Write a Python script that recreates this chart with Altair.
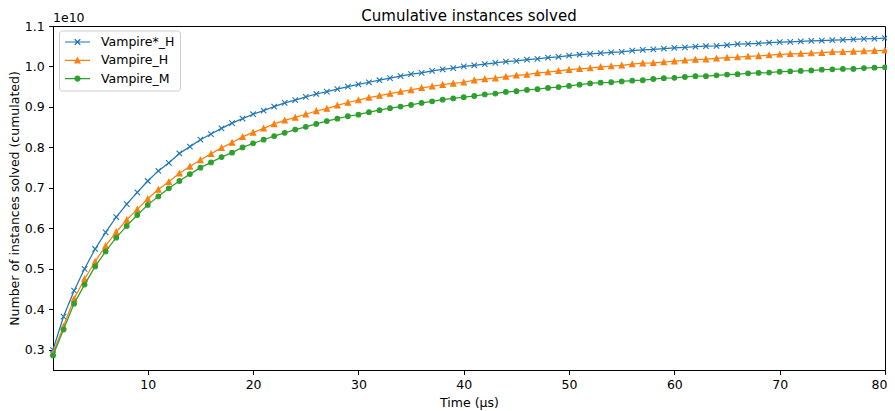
import altair as alt
import pandas as pd

# ---------------- data (values in units of 1e10) ----------------
times = list(range(1, 81))
series_names = ["Vampire*_H", "Vampire_H", "Vampire_M"]
colors = ["#1f77b4", "#ff7f0e", "#2ca02c"]

vampire_star_h = [
    0.300, 0.382, 0.446, 0.500, 0.549, 0.590, 0.628, 0.660, 0.689, 0.717,
    0.742, 0.762, 0.785, 0.802, 0.819, 0.833, 0.847, 0.860, 0.871, 0.882,
    0.891, 0.901, 0.910, 0.917, 0.925, 0.932, 0.938, 0.944, 0.950, 0.956,
    0.961, 0.966, 0.971, 0.976, 0.981, 0.984, 0.989, 0.993, 0.996, 1.000,
    1.003, 1.006, 1.009, 1.012, 1.014, 1.017, 1.019, 1.022, 1.024, 1.027,
    1.029, 1.031, 1.033, 1.035, 1.036, 1.039, 1.041, 1.042, 1.044, 1.046,
    1.047, 1.049, 1.050, 1.051, 1.053, 1.055, 1.056, 1.057, 1.059, 1.060,
    1.061, 1.062, 1.063, 1.064, 1.065, 1.066, 1.067, 1.068, 1.069, 1.070,
]
vampire_h = [
    0.292, 0.358, 0.426, 0.475, 0.518, 0.557, 0.591, 0.621, 0.647, 0.673,
    0.696, 0.715, 0.736, 0.753, 0.769, 0.784, 0.799, 0.812, 0.826, 0.837,
    0.847, 0.858, 0.867, 0.874, 0.882, 0.890, 0.896, 0.904, 0.911, 0.917,
    0.923, 0.928, 0.933, 0.938, 0.942, 0.947, 0.951, 0.955, 0.958, 0.961,
    0.966, 0.969, 0.971, 0.975, 0.978, 0.980, 0.984, 0.986, 0.989, 0.992,
    0.994, 0.996, 0.999, 1.001, 1.003, 1.006, 1.008, 1.009, 1.011, 1.013,
    1.015, 1.017, 1.018, 1.020, 1.022, 1.023, 1.025, 1.026, 1.028, 1.030,
    1.031, 1.032, 1.033, 1.034, 1.036, 1.036, 1.037, 1.038, 1.039, 1.040,
]
vampire_m = [
    0.286, 0.350, 0.414, 0.461, 0.506, 0.543, 0.577, 0.606, 0.633, 0.658,
    0.679, 0.699, 0.717, 0.734, 0.750, 0.763, 0.776, 0.787, 0.800, 0.810,
    0.819, 0.828, 0.836, 0.844, 0.851, 0.858, 0.865, 0.871, 0.877, 0.881,
    0.887, 0.892, 0.897, 0.901, 0.905, 0.910, 0.914, 0.918, 0.921, 0.924,
    0.927, 0.931, 0.933, 0.937, 0.939, 0.942, 0.944, 0.947, 0.949, 0.952,
    0.955, 0.958, 0.960, 0.961, 0.963, 0.965, 0.966, 0.969, 0.971, 0.972,
    0.974, 0.976, 0.976, 0.978, 0.980, 0.981, 0.983, 0.984, 0.985, 0.987,
    0.988, 0.989, 0.990, 0.992, 0.993, 0.994, 0.994, 0.996, 0.997, 0.998,
]
x_ticks = [10, 20, 30, 40, 50, 60, 70, 80]
y_ticks = [0.3, 0.4, 0.5, 0.6, 0.7, 0.8, 0.9, 1.0, 1.1]
scale_exp = 1e10
offset_label = "1e10"
chart_title = "Cumulative instances solved"

rows = []
for name, vals in zip(series_names, [vampire_star_h, vampire_h, vampire_m]):
    for t, v in zip(times, vals):
        rows.append({"time": t, "series": name, "solved": v * scale_exp})
df = pd.DataFrame(rows)

FONT = "DejaVu Sans"
FS = 12.5
W, H = 832, 344

cscale = alt.Scale(domain=series_names, range=colors)

xenc = alt.X(
    "time:Q",
    scale=alt.Scale(domain=[1, 80], nice=False, zero=False),
    axis=alt.Axis(values=x_ticks, title="Time (µs)", titleY=36,
                  titleBaseline="alphabetic", labelFlush=True, labelFlushOffset=2),
)
yenc = alt.Y(
    "solved:Q",
    scale=alt.Scale(domain=[0.25e10, 1.1e10], nice=False, zero=False),
    axis=alt.Axis(values=[v * scale_exp for v in y_ticks],
                  labelExpr="format(datum.value / 1e10, '.1f')",
                  title="Number of instances solved (cumulated)",
                  titleX=-35, titleBaseline="alphabetic"),
)

base = alt.Chart(df)

marker_shapes = ["M-1,-1L1,1M-1,1L1,-1", "M0,-1L1,1L-1,1Z", "circle"]
marker_sizes = [30, 28, 22]
series_layers = []
for name, col, shp, sz in zip(series_names, colors, marker_shapes, marker_sizes):
    sub = base.transform_filter(alt.datum.series == name)
    series_layers.append(sub.mark_line(strokeWidth=1.25, color=col).encode(x=xenc, y=yenc))
    series_layers.append(
        sub.mark_point(shape=shp, size=sz, filled=True, opacity=1, strokeWidth=1.1,
                       fill=col, stroke=col).encode(x=xenc, y=yenc)
    )

legend_shapes = [
    "M-1,0H1M-0.22,-0.22L0.22,0.22M-0.22,0.22L0.22,-0.22",
    "M-1,0H1M0,-0.2L0.2,0.2L-0.2,0.2Z",
    "M-1,0H1M0.2,0A0.2,0.2 0 1,1 -0.2,0A0.2,0.2 0 1,1 0.2,0Z",
]
leg = alt.Legend(
    title=None, orient="none", legendX=6, legendY=4.5,
    symbolSize=625, symbolStrokeWidth=1.2, symbolOpacity=1,
    labelFont=FONT, labelFontSize=FS, labelColor="black", labelOffset=10,
    padding=5, rowPadding=5.3, clipHeight=13,
    strokeColor="#cccccc", fillColor="rgba(255,255,255,0.8)", cornerRadius=3,
)
legend_layer = (
    base.transform_filter("false")
    .mark_point(filled=True, opacity=1)
    .encode(
        x=xenc, y=yenc,
        fill=alt.Fill("series:N", scale=cscale, legend=leg),
        stroke=alt.Stroke("series:N", scale=cscale, legend=leg),
        shape=alt.Shape("series:N", scale=alt.Scale(domain=series_names, range=legend_shapes), legend=leg),
    )
)

offset_text = alt.Chart(pd.DataFrame({"label": [offset_label]})).mark_text(
    align="left", baseline="alphabetic", font=FONT, fontSize=FS, color="black"
).encode(text="label:N", x=alt.value(0), y=alt.value(-4))

title_text = alt.Chart(pd.DataFrame({"label": [chart_title]})).mark_text(
    align="center", baseline="alphabetic", font=FONT, fontSize=15, color="black"
).encode(text="label:N", x=alt.value(W / 2), y=alt.value(-5.3))

chart = (
    alt.layer(*series_layers, legend_layer, offset_text, title_text)
    .properties(
        width=W, height=H,
        padding={"left": 45, "top": 18, "right": 2, "bottom": 41},
        autosize=alt.AutoSizeParams(type="none"),
    )
    .configure_view(stroke="black", strokeWidth=1)
    .configure_axis(
        domainColor="black", domainWidth=1, tickColor="black", tickWidth=1,
        tickSize=4.4, labelPadding=4.4, labelFont=FONT, labelFontSize=FS,
        labelColor="black", titleFont=FONT, titleFontSize=FS,
        titleFontWeight="normal", titleColor="black", grid=False, labelFlush=False,
    )
)

chart.save("out.html", embed_options={"renderer": "svg", "actions": False})
